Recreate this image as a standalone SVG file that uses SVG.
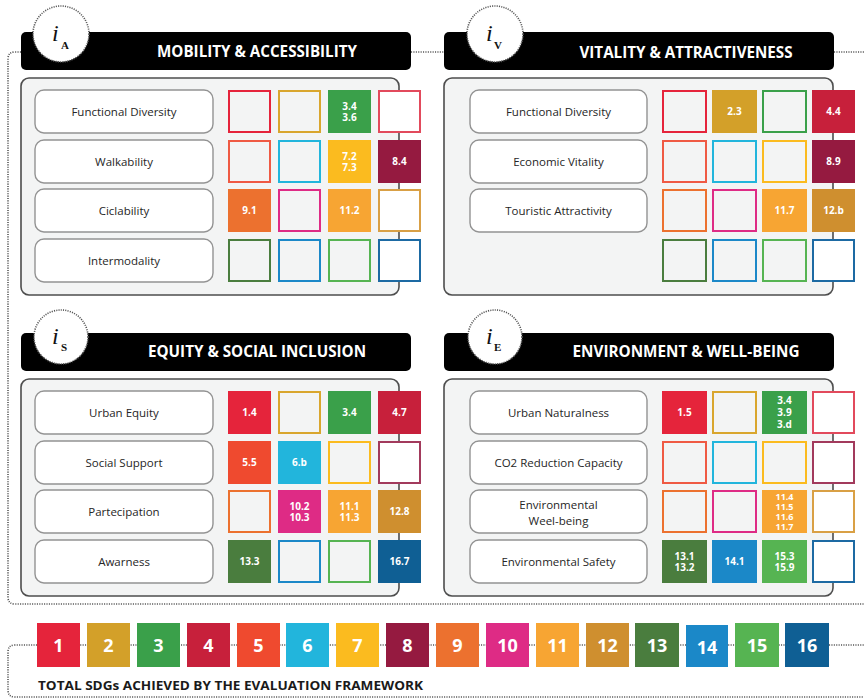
<svg xmlns="http://www.w3.org/2000/svg" width="864" height="700" viewBox="0 0 864 700">
  <defs>
    <style>
      .hdr{fill:#000}
      .ht{font-family:'Open Sans','Liberation Sans',sans-serif;font-weight:700;font-size:16px;fill:#fff;text-anchor:middle}
      .ring{fill:#fff;stroke:#555;stroke-width:1.6;stroke-dasharray:1.1 1.2}
      .ii{font-family:'Liberation Serif',serif;font-style:italic;font-size:24px;fill:#111}
      .sub{font-family:'Liberation Serif',serif;font-weight:700;font-size:11px;fill:#111}
      .box{fill:#f3f4f4;stroke:#4d4d4d;stroke-width:1.6}
      .lbl{fill:#fff;stroke:#939393;stroke-width:1.4}
      .lt{font-family:'Open Sans','Liberation Sans',sans-serif;font-size:11.5px;fill:#262626;text-anchor:middle}
      .st{font-family:'Open Sans','Liberation Sans',sans-serif;font-weight:700;font-size:10px;fill:#fff;text-anchor:middle}
      .st4{font-family:'Open Sans','Liberation Sans',sans-serif;font-weight:700;font-size:9px;fill:#fff;text-anchor:middle}
      .e{fill:#f3f4f4;stroke-width:2}
      .w{fill:#fff;stroke-width:2}
      .dot{fill:none;stroke:#555;stroke-width:1.6;stroke-dasharray:1.1 1.3}
      .lg{font-family:'Open Sans','Liberation Sans',sans-serif;font-weight:700;font-size:18px;fill:#fff;text-anchor:middle}
      .cap{font-family:'Open Sans','Liberation Sans',sans-serif;font-weight:700;font-size:13px;fill:#1a1a1a}
    </style>
  </defs>

  <!-- dotted framework lines -->
  <g id="connectors">
    <path class="dot" d="M21,52 H15 Q8,52 8,59 V597 Q8,604 15,604 H864"/>
    <path class="dot" d="M411,52 H444"/>
    <path class="dot" d="M834,52 H864"/>
    <path class="dot" d="M37,645 H15 Q8,645 8,652 V690 Q8,697 15,697 H864"/>
    <path class="dot" d="M37,645 H864"/>
  </g>

  <!-- Mobility & Accessibility -->
  <g id="panel-mobility">
    <rect class="hdr" x="21" y="32" width="390" height="38" rx="5"/>
    <circle class="ring" cx="61" cy="34" r="28"/>
    <text class="ii" x="52" y="41">i</text><text class="sub" x="61" y="49">A</text>
    <text class="ht" x="257" y="57" textLength="200" lengthAdjust="spacingAndGlyphs">MOBILITY &amp; ACCESSIBILITY</text>
    <rect class="box" x="21" y="78" width="378" height="217" rx="8"/>
    <rect class="lbl" x="35" y="90" width="178" height="43" rx="9"/><text class="lt" x="124" y="115.5">Functional Diversity</text>
    <rect class="lbl" x="35" y="140" width="178" height="43" rx="9"/><text class="lt" x="124" y="165.5">Walkability</text>
    <rect class="lbl" x="35" y="189" width="178" height="43" rx="9"/><text class="lt" x="124" y="214.5">Ciclability</text>
    <rect class="lbl" x="35" y="239" width="178" height="43" rx="9"/><text class="lt" x="124" y="264.5">Intermodality</text>
    <!-- row 1 -->
    <rect class="e" x="229" y="91" width="41" height="41" stroke="#e5243b"/>
    <rect class="e" x="279" y="91" width="41" height="41" stroke="#d9a62e"/>
    <rect x="328" y="90" width="43" height="43" fill="#3aa04a"/><text class="st" x="349.5" y="109.5">3.4<tspan x="349.5" dy="11">3.6</tspan></text>
    <rect class="w" x="379" y="91" width="41" height="41" stroke="#e24a5c"/>
    <!-- row 2 -->
    <rect class="e" x="229" y="141" width="41" height="41" stroke="#ef5a44"/>
    <rect class="e" x="279" y="141" width="41" height="41" stroke="#22b5dc"/>
    <rect x="328" y="140" width="43" height="43" fill="#fbbb1f"/><text class="st" x="349.5" y="159.5">7.2<tspan x="349.5" dy="11">7.3</tspan></text>
    <rect x="378" y="140" width="43" height="43" fill="#951a40"/><text class="st" x="399.5" y="165">8.4</text>
    <!-- row 3 -->
    <rect x="228" y="189" width="43" height="43" fill="#ec712f"/><text class="st" x="249.5" y="214">9.1</text>
    <rect class="e" x="279" y="190" width="41" height="41" stroke="#de2b85"/>
    <rect x="328" y="189" width="43" height="43" fill="#f7a533"/><text class="st" x="349.5" y="214">11.2</text>
    <rect class="w" x="379" y="190" width="41" height="41" stroke="#d9a045"/>
    <!-- row 4 -->
    <rect class="e" x="229" y="240" width="41" height="41" stroke="#4a7d3e"/>
    <rect class="e" x="279" y="240" width="41" height="41" stroke="#1b88c8"/>
    <rect class="e" x="329" y="240" width="41" height="41" stroke="#56b452"/>
    <rect class="w" x="379" y="240" width="41" height="41" stroke="#1d6aa3"/>
  </g>

  <!-- Vitality & Attractiveness -->
  <g id="panel-vitality">
    <rect class="hdr" x="444" y="32" width="390" height="38" rx="5"/>
    <circle class="ring" cx="495" cy="34" r="28"/>
    <text class="ii" x="486" y="41">i</text><text class="sub" x="494" y="49">V</text>
    <text class="ht" x="686" y="58" textLength="213" lengthAdjust="spacingAndGlyphs">VITALITY &amp; ATTRACTIVENESS</text>
    <rect class="box" x="444" y="78" width="389" height="217" rx="8"/>
    <rect class="lbl" x="470" y="90" width="177" height="43" rx="9"/><text class="lt" x="558.5" y="115.5">Functional Diversity</text>
    <rect class="lbl" x="470" y="140" width="177" height="43" rx="9"/><text class="lt" x="558.5" y="165.5">Economic Vitality</text>
    <rect class="lbl" x="470" y="189" width="177" height="43" rx="9"/><text class="lt" x="558.5" y="214.5">Touristic Attractivity</text>
    <!-- row 1 -->
    <rect class="e" x="663" y="91" width="43" height="41" stroke="#e5243b"/>
    <rect x="712" y="90" width="45" height="43" fill="#d3a029"/><text class="st" x="734.5" y="115">2.3</text>
    <rect class="e" x="763" y="91" width="43" height="41" stroke="#3aa04a"/>
    <rect x="812" y="90" width="43" height="43" fill="#c7203b"/><text class="st" x="833.5" y="115">4.4</text>
    <!-- row 2 -->
    <rect class="e" x="663" y="141" width="43" height="41" stroke="#ef5a44"/>
    <rect class="e" x="713" y="141" width="43" height="41" stroke="#22b5dc"/>
    <rect class="e" x="763" y="141" width="43" height="41" stroke="#fbbb1f"/>
    <rect x="812" y="140" width="43" height="43" fill="#951a40"/><text class="st" x="833.5" y="165">8.9</text>
    <!-- row 3 -->
    <rect class="e" x="663" y="190" width="43" height="41" stroke="#ec712f"/>
    <rect class="e" x="713" y="190" width="43" height="41" stroke="#de2b85"/>
    <rect x="762" y="189" width="45" height="43" fill="#f7a533"/><text class="st" x="784.5" y="214">11.7</text>
    <rect x="812" y="189" width="43" height="43" fill="#cf8f2f"/><text class="st" x="833.5" y="214">12.b</text>
    <!-- row 4 -->
    <rect class="e" x="663" y="240" width="43" height="41" stroke="#4a7d3e"/>
    <rect class="e" x="713" y="240" width="43" height="41" stroke="#1b88c8"/>
    <rect class="e" x="763" y="240" width="43" height="41" stroke="#56b452"/>
    <rect class="w" x="813" y="240" width="41" height="41" stroke="#1d6aa3"/>
  </g>

  <!-- Equity & Social Inclusion -->
  <g id="panel-equity">
    <rect class="hdr" x="21" y="333" width="390" height="38" rx="5"/>
    <circle class="ring" cx="61" cy="337" r="27"/>
    <text class="ii" x="52" y="344">i</text><text class="sub" x="61" y="351">S</text>
    <text class="ht" x="257" y="357" textLength="218" lengthAdjust="spacingAndGlyphs">EQUITY &amp; SOCIAL INCLUSION</text>
    <rect class="box" x="21" y="379" width="378" height="217" rx="8"/>
    <rect class="lbl" x="35" y="391" width="178" height="43" rx="9"/><text class="lt" x="124" y="416.5">Urban Equity</text>
    <rect class="lbl" x="35" y="441" width="178" height="43" rx="9"/><text class="lt" x="124" y="466.5">Social Support</text>
    <rect class="lbl" x="35" y="490" width="178" height="43" rx="9"/><text class="lt" x="124" y="515.5">Partecipation</text>
    <rect class="lbl" x="35" y="540" width="178" height="43" rx="9"/><text class="lt" x="124" y="565.5">Awarness</text>
    <!-- row 1 -->
    <rect x="228" y="391" width="43" height="43" fill="#e5243b"/><text class="st" x="249.5" y="416">1.4</text>
    <rect class="e" x="279" y="392" width="41" height="41" stroke="#d9a62e"/>
    <rect x="328" y="391" width="43" height="43" fill="#3aa04a"/><text class="st" x="349.5" y="416">3.4</text>
    <rect x="378" y="391" width="43" height="43" fill="#c7203b"/><text class="st" x="399.5" y="416">4.7</text>
    <!-- row 2 -->
    <rect x="228" y="441" width="43" height="43" fill="#ef4a2f"/><text class="st" x="249.5" y="466">5.5</text>
    <rect x="278" y="441" width="43" height="43" fill="#22b5dc"/><text class="st" x="299.5" y="466">6.b</text>
    <rect class="e" x="329" y="442" width="41" height="41" stroke="#fbbb1f"/>
    <rect class="w" x="379" y="442" width="41" height="41" stroke="#a23a5c"/>
    <!-- row 3 -->
    <rect class="e" x="229" y="491" width="41" height="41" stroke="#ec712f"/>
    <rect x="278" y="490" width="43" height="43" fill="#de2b85"/><text class="st" x="299.5" y="509.5">10.2<tspan x="299.5" dy="11">10.3</tspan></text>
    <rect x="328" y="490" width="43" height="43" fill="#f7a533"/><text class="st" x="349.5" y="509.5">11.1<tspan x="349.5" dy="11">11.3</tspan></text>
    <rect x="378" y="490" width="43" height="43" fill="#cf8f2f"/><text class="st" x="399.5" y="515">12.8</text>
    <!-- row 4 -->
    <rect x="228" y="540" width="43" height="43" fill="#4a7d3e"/><text class="st" x="249.5" y="565">13.3</text>
    <rect class="e" x="279" y="541" width="41" height="41" stroke="#1b88c8"/>
    <rect class="e" x="329" y="541" width="41" height="41" stroke="#56b452"/>
    <rect x="378" y="540" width="43" height="43" fill="#0f5f94"/><text class="st" x="399.5" y="565">16.7</text>
  </g>

  <!-- Environment & Well-being -->
  <g id="panel-environment">
    <rect class="hdr" x="444" y="333" width="390" height="38" rx="5"/>
    <circle class="ring" cx="495" cy="337" r="27"/>
    <text class="ii" x="486" y="344">i</text><text class="sub" x="494" y="351">E</text>
    <text class="ht" x="686" y="357" textLength="227" lengthAdjust="spacingAndGlyphs">ENVIRONMENT &amp; WELL-BEING</text>
    <rect class="box" x="444" y="379" width="389" height="217" rx="8"/>
    <rect class="lbl" x="470" y="391" width="177" height="43" rx="9"/><text class="lt" x="558.5" y="416.5">Urban Naturalness</text>
    <rect class="lbl" x="470" y="441" width="177" height="43" rx="9"/><text class="lt" x="558.5" y="466.5">CO2 Reduction Capacity</text>
    <rect class="lbl" x="470" y="490" width="177" height="43" rx="9"/><text class="lt" x="558.5" y="509">Environmental<tspan x="558.5" dy="16">Weel-being</tspan></text>
    <rect class="lbl" x="470" y="540" width="177" height="43" rx="9"/><text class="lt" x="558.5" y="565.5">Environmental Safety</text>
    <!-- row 1 -->
    <rect x="662" y="391" width="45" height="43" fill="#e5243b"/><text class="st" x="684.5" y="416">1.5</text>
    <rect class="e" x="713" y="392" width="43" height="41" stroke="#d9a62e"/>
    <rect x="762" y="391" width="45" height="43" fill="#3aa04a"/><text class="st" x="784.5" y="404">3.4<tspan x="784.5" dy="12">3.9</tspan><tspan x="784.5" dy="12">3.d</tspan></text>
    <rect class="w" x="813" y="392" width="41" height="41" stroke="#e24a5c"/>
    <!-- row 2 -->
    <rect class="e" x="663" y="442" width="43" height="41" stroke="#ef5a44"/>
    <rect class="e" x="713" y="442" width="43" height="41" stroke="#22b5dc"/>
    <rect class="e" x="763" y="442" width="43" height="41" stroke="#fbbb1f"/>
    <rect class="w" x="813" y="442" width="41" height="41" stroke="#a23a5c"/>
    <!-- row 3 -->
    <rect class="e" x="663" y="491" width="43" height="41" stroke="#ec712f"/>
    <rect class="e" x="713" y="491" width="43" height="41" stroke="#de2b85"/>
    <rect x="762" y="490" width="45" height="43" fill="#f7a533"/><text class="st4" x="784.5" y="500">11.4<tspan x="784.5" dy="10">11.5</tspan><tspan x="784.5" dy="10">11.6</tspan><tspan x="784.5" dy="10">11.7</tspan></text>
    <rect class="w" x="813" y="491" width="41" height="41" stroke="#d9a045"/>
    <!-- row 4 -->
    <rect x="662" y="540" width="45" height="43" fill="#4a7d3e"/><text class="st" x="684.5" y="559.5">13.1<tspan x="684.5" dy="11">13.2</tspan></text>
    <rect x="712" y="540" width="45" height="43" fill="#1b88c8"/><text class="st" x="734.5" y="565">14.1</text>
    <rect x="762" y="540" width="45" height="43" fill="#56b452"/><text class="st" x="784.5" y="559.5">15.3<tspan x="784.5" dy="11">15.9</tspan></text>
    <rect class="w" x="813" y="541" width="41" height="41" stroke="#1d6aa3"/>
  </g>

  <!-- SDG legend -->
  <g id="sdg-legend">
    <rect x="37" y="623" width="43" height="44" fill="#e5243b"/><text class="lg" x="58.5" y="652">1</text>
    <rect x="87" y="623" width="43" height="44" fill="#d3a029"/><text class="lg" x="108.5" y="652">2</text>
    <rect x="137" y="623" width="43" height="44" fill="#3aa04a"/><text class="lg" x="158.5" y="652">3</text>
    <rect x="187" y="623" width="43" height="44" fill="#c7203b"/><text class="lg" x="208.5" y="652">4</text>
    <rect x="237" y="623" width="43" height="44" fill="#ef4a2f"/><text class="lg" x="258.5" y="652">5</text>
    <rect x="286" y="623" width="43" height="44" fill="#22b5dc"/><text class="lg" x="307.5" y="652">6</text>
    <rect x="336" y="623" width="43" height="44" fill="#fbbb1f"/><text class="lg" x="357.5" y="652">7</text>
    <rect x="386" y="623" width="43" height="44" fill="#951a40"/><text class="lg" x="407.5" y="652">8</text>
    <rect x="436" y="623" width="43" height="44" fill="#ec712f"/><text class="lg" x="457.5" y="652">9</text>
    <rect x="486" y="623" width="43" height="44" fill="#de2b85"/><text class="lg" x="507.5" y="652">10</text>
    <rect x="536" y="623" width="43" height="44" fill="#f7a533"/><text class="lg" x="557.5" y="652">11</text>
    <rect x="586" y="623" width="43" height="44" fill="#cf8f2f"/><text class="lg" x="607.5" y="652">12</text>
    <rect x="635" y="623" width="44" height="44" fill="#4a7d3e"/><text class="lg" x="657" y="652">13</text>
    <rect x="686" y="625" width="42" height="42" fill="#1b88c8"/><text class="lg" x="707" y="654">14</text>
    <rect x="735" y="623" width="44" height="44" fill="#56b452"/><text class="lg" x="757" y="652">15</text>
    <rect x="785" y="623" width="44" height="44" fill="#0f5f94"/><text class="lg" x="807" y="652">16</text>
    <text class="cap" x="38" y="690" textLength="385" lengthAdjust="spacingAndGlyphs">TOTAL SDGs ACHIEVED BY THE EVALUATION FRAMEWORK</text>
  </g>
</svg>
